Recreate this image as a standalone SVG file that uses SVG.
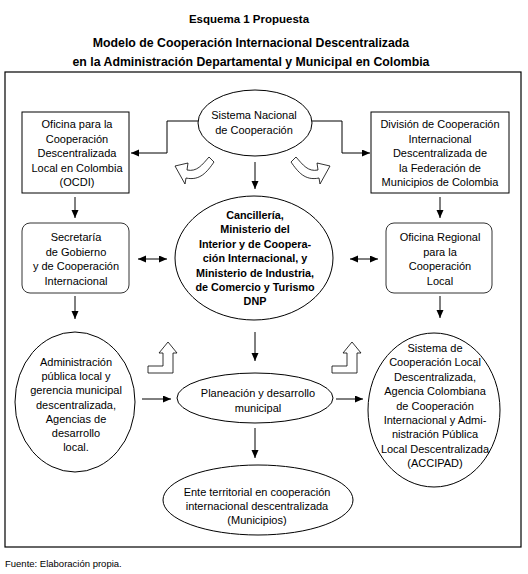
<svg xmlns="http://www.w3.org/2000/svg" width="528" height="574" viewBox="0 0 528 574">
<style>
text{font-family:"Liberation Sans",Arial,sans-serif;fill:#000}
.t{font-size:11.5px;font-weight:bold;text-anchor:middle}
.t2{font-size:12.3px;font-weight:bold;text-anchor:middle}
.n{font-size:11px;text-anchor:middle}
.b{font-size:10.8px;font-weight:bold;text-anchor:middle}
.f{font-size:9.5px}
.shape{fill:#fff;stroke:#000;stroke-width:1}
.rr{fill:#fff;stroke:#333;stroke-width:1}
.c{fill:none;stroke:#000;stroke-width:1}
.blk{fill:#fff;stroke:#000;stroke-width:0.8;stroke-linejoin:miter}
</style>
<defs>
<marker id="ah" markerUnits="userSpaceOnUse" markerWidth="9" markerHeight="8" refX="8" refY="3.5" orient="auto-start-reverse">
<path d="M0,0 L8,3.5 L0,7 Z" fill="#000"/>
</marker>
</defs>
<rect width="528" height="574" fill="#fff"/>
<g id="title">
<text class="t" x="249" y="23">Esquema 1 Propuesta</text>
<text class="t2" x="251" y="47">Modelo de Cooperación Internacional Descentralizada</text>
<text class="t2" x="251" y="66">en la Administración Departamental y Municipal en Colombia</text>
</g>
<rect id="frame" x="5" y="72" width="516" height="475" fill="none" stroke="#000" stroke-width="1.2"/>
<g id="connectors">
<polyline class="c" points="198,121 167,121 167,153 131,153" marker-end="url(#ah)"/>
<polyline class="c" points="312,121 342,121 342,153 370,153" marker-end="url(#ah)"/>
<line class="c" x1="255" y1="162" x2="255" y2="189" marker-end="url(#ah)"/>
<line class="c" x1="75" y1="197" x2="75" y2="218" marker-end="url(#ah)"/>
<line class="c" x1="440" y1="197" x2="440" y2="218" marker-end="url(#ah)"/>
<line class="c" x1="138" y1="259" x2="167" y2="259" marker-start="url(#ah)" marker-end="url(#ah)"/>
<line class="c" x1="350" y1="259" x2="378" y2="259" marker-start="url(#ah)" marker-end="url(#ah)"/>
<line class="c" x1="75" y1="296" x2="75" y2="319" marker-end="url(#ah)"/>
<line class="c" x1="440" y1="296" x2="440" y2="318" marker-end="url(#ah)"/>
<line class="c" x1="255" y1="332" x2="255" y2="361" marker-end="url(#ah)"/>
<line class="c" x1="142" y1="399" x2="171" y2="399" marker-end="url(#ah)"/>
<line class="c" x1="336" y1="399" x2="363" y2="399" marker-end="url(#ah)"/>
<line class="c" x1="255" y1="428" x2="255" y2="458" marker-end="url(#ah)"/>
<path class="blk" d="M209,157 L214,162 C207,172 200,181 186,178 L185,184 L175,166 L188,163 L187,170 C197,172 202,165 209,157 Z"/>
<path class="blk" d="M296,157 L291,162 C298,172 305,181 319,178 L320,184 L330,166 L317,163 L318,170 C308,172 303,165 296,157 Z"/>
<path class="blk" d="M148,373 L173,373 L173,353 L177,353 L168,342 L159,353 L163,353 L163,366 L148,366 Z"/>
<path class="blk" d="M332,373 L357,373 L357,353 L361,353 L352,342 L343,353 L347,353 L347,366 L332,366 Z"/>
</g>
<g id="sistema">
<ellipse class="shape" cx="255" cy="123" rx="57" ry="33"/>
<text class="n" x="254" y="119">Sistema Nacional</text>
<text class="n" x="254" y="134">de Cooperación</text>
</g>
<g id="ocdi">
<rect class="shape" x="22" y="112" width="107" height="81"/>
<text class="n" x="77" y="128">Oficina para la</text>
<text class="n" x="77" y="142.5">Cooperación</text>
<text class="n" x="77" y="157">Descentralizada</text>
<text class="n" x="77" y="171.5">Local en Colombia</text>
<text class="n" x="77" y="186">(OCDI)</text>
</g>
<g id="division">
<rect class="shape" x="371" y="112" width="138" height="81"/>
<text class="n" x="440" y="128">División de Cooperación</text>
<text class="n" x="440" y="142.5">Internacional</text>
<text class="n" x="440" y="157">Descentralizada de</text>
<text class="n" x="440" y="171.5">la Federación de</text>
<text class="n" x="440" y="186">Municipios de Colombia</text>
</g>
<g id="secretaria">
<rect class="rr" x="22" y="223" width="107" height="70" rx="8"/>
<text class="n" x="76" y="241">Secretaría</text>
<text class="n" x="76" y="255.5">de Gobierno</text>
<text class="n" x="76" y="270">y de Cooperación</text>
<text class="n" x="76" y="284.5">Internacional</text>
</g>
<g id="cancilleria">
<ellipse class="shape" cx="254" cy="258" rx="79" ry="62"/>
<text class="b" x="255" y="219">Cancillería,</text>
<text class="b" x="255" y="233.4">Ministerio del</text>
<text class="b" x="255" y="247.8">Interior y de Coopera-</text>
<text class="b" x="255" y="262.2">ción Internacional, y</text>
<text class="b" x="255" y="276.6">Ministerio de Industria,</text>
<text class="b" x="255" y="291">de Comercio y Turismo</text>
<text class="b" x="255" y="305.4">DNP</text>
</g>
<g id="oficina-regional">
<rect class="rr" x="386" y="223" width="106" height="70" rx="8"/>
<text class="n" x="440" y="241">Oficina Regional</text>
<text class="n" x="440" y="255.5">para la</text>
<text class="n" x="440" y="270">Cooperación</text>
<text class="n" x="440" y="284.5">Local</text>
</g>
<g id="administracion">
<ellipse class="shape" cx="75" cy="402" rx="60" ry="70"/>
<text class="n" x="76" y="366">Administración</text>
<text class="n" x="76" y="380.2">pública local y</text>
<text class="n" x="76" y="394.4">gerencia municipal</text>
<text class="n" x="76" y="408.6">descentralizada,</text>
<text class="n" x="76" y="422.8">Agencias de</text>
<text class="n" x="76" y="437">desarrollo</text>
<text class="n" x="76" y="451.2">local.</text>
</g>
<g id="planeacion">
<ellipse class="shape" cx="255" cy="398" rx="78" ry="25"/>
<text class="n" x="258" y="397">Planeación y desarrollo</text>
<text class="n" x="258" y="412">municipal</text>
</g>
<g id="accipad">
<ellipse class="shape" cx="434" cy="410" rx="66" ry="77"/>
<text class="n" x="435" y="352">Sistema de</text>
<text class="n" x="435" y="366.4">Cooperación Local</text>
<text class="n" x="435" y="380.8">Descentralizada,</text>
<text class="n" x="435" y="395.2">Agencia Colombiana</text>
<text class="n" x="435" y="409.6">de Cooperación</text>
<text class="n" x="435" y="424">Internacional y Admi-</text>
<text class="n" x="435" y="438.4">nistración Pública</text>
<text class="n" x="435" y="452.8">Local Descentralizada</text>
<text class="n" x="435" y="467.2">(ACCIPAD)</text>
</g>
<g id="ente">
<ellipse class="shape" cx="258" cy="500" rx="95" ry="35"/>
<text class="n" x="257" y="496">Ente territorial en cooperación</text>
<text class="n" x="257" y="510">internacional descentralizada</text>
<text class="n" x="257" y="524">(Municipios)</text>
</g>
<text class="f" x="5" y="567">Fuente: Elaboración propia.</text>
</svg>
